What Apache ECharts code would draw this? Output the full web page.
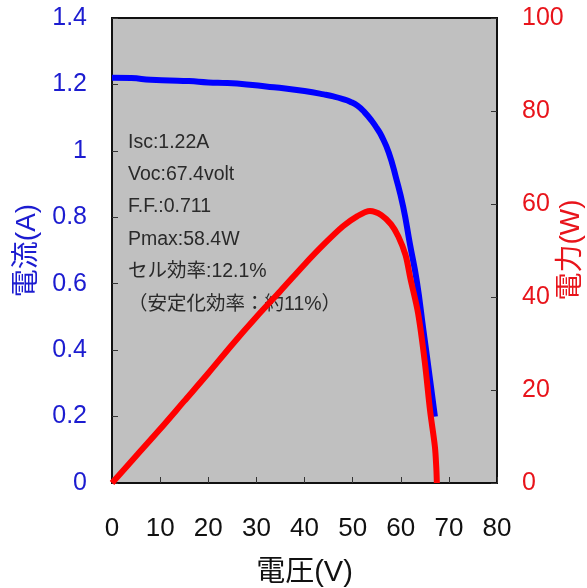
<!DOCTYPE html>
<html>
<head>
<meta charset="utf-8">
<script src="https://cdn.jsdelivr.net/npm/echarts@6/dist/echarts.min.js"></script>
<style>
html,body{margin:0;padding:0;background:#fff;}
#main{width:587px;height:588px;}
</style>
</head>
<body>
<div id="main"></div>
<script>
// 電流 (I-V)
var ivVolt = [0, 4, 8, 12, 16, 20, 24, 28, 32, 36, 40, 44, 46, 48, 49.5, 51, 52.5, 54, 55, 56, 57.5, 59, 60.5, 61.9, 63.3, 64.7, 66.1, 67.1];
var ivAmp = [1.220, 1.219, 1.214, 1.212, 1.210, 1.206, 1.204, 1.200, 1.194, 1.188, 1.180, 1.170, 1.164, 1.156, 1.148, 1.136, 1.116, 1.090, 1.069, 1.045, 0.995, 0.920, 0.832, 0.720, 0.611, 0.461, 0.310, 0.200];
// 電力 (P-V)
var pvVolt = [0, 5, 10, 15, 20, 25, 30, 35, 40, 44, 48, 51, 53.6, 56, 58, 59.5, 61, 62, 63.6, 65, 66.1, 67.1, 67.4, 67.5];
var pvWatt = [0, 5.8, 11.6, 17.6, 23.6, 29.8, 35.7, 41.3, 47.0, 51.3, 55.2, 57.4, 58.5, 57.6, 55.6, 53.0, 49.0, 44.0, 36.5, 26.0, 15.5, 7.8, 3.0, 0];
// 注記
var infoLines = ['Isc:1.22A', 'Voc:67.4volt', 'F.F.:0.711', 'Pmax:58.4W', 'セル効率:12.1%', '（安定化効率：約11%）'];

var blueText = '#1c1cd0';
var redText = '#e8141b';
var fontFam = 'Liberation Sans, Noto Sans CJK JP, sans-serif';

function pairs(xs, ys) {
    var out = [];
    for (var i = 0; i < xs.length; i++) {
        out.push([xs[i], ys[i]]);
    }
    return out;
}

var myChart = echarts.init(document.getElementById('main'));
var option = {
    animation: false,
    grid: {
        show: true,
        left: 112,
        right: 90,
        top: 18,
        bottom: 105,
        containLabel: false,
        outerBoundsMode: 'none',
        backgroundColor: '#c0c0c0',
        borderColor: '#111',
        borderWidth: 2
    },
    xAxis: {
        type: 'value',
        min: 0,
        max: 80,
        interval: 10,
        name: '電圧(V)',
        nameLocation: 'middle',
        nameGap: 75,
        nameTextStyle: {color: '#111', fontSize: 29, fontFamily: fontFam},
        axisLine: {lineStyle: {color: '#111', width: 2}},
        axisTick: {inside: true, length: 6, lineStyle: {color: '#333'}},
        axisLabel: {color: '#111', fontSize: 26, margin: 33, fontFamily: fontFam},
        splitLine: {show: false}
    },
    yAxis: [{
        type: 'value',
        min: 0,
        max: 1.4,
        interval: 0.2,
        name: '電流(A)',
        nameLocation: 'middle',
        nameGap: 70,
        nameRotate: 90,
        nameTextStyle: {color: blueText, fontSize: 28, fontFamily: fontFam},
        axisLine: {show: true, lineStyle: {color: '#111', width: 2}},
        axisTick: {show: true, inside: true, length: 6, lineStyle: {color: '#333'}},
        axisLabel: {color: blueText, fontSize: 25, margin: 25, fontFamily: fontFam},
        splitLine: {show: false}
    }, {
        type: 'value',
        min: 0,
        max: 100,
        interval: 20,
        position: 'right',
        axisLine: {show: true, lineStyle: {color: '#111', width: 2}},
        axisTick: {show: true, inside: true, length: 6, lineStyle: {color: '#333'}},
        axisLabel: {color: redText, fontSize: 25, margin: 25, fontFamily: fontFam},
        splitLine: {show: false}
    }],
    graphic: [{
        type: 'text',
        left: 128,
        top: 126,
        style: {
            text: infoLines.join('\n'),
            fill: '#2a2a2a',
            font: '19.5px ' + fontFam,
            lineHeight: 32.4
        }
    }, {
        // 右軸の名前
        type: 'text',
        x: 571,
        y: 250,
        rotation: Math.PI / 2,
        style: {
            text: '電力(W)',
            fill: redText,
            font: '28px ' + fontFam,
            align: 'center',
            verticalAlign: 'middle'
        }
    }],
    series: [{
        name: '電流',
        type: 'line',
        yAxisIndex: 0,
        data: pairs(ivVolt, ivAmp),
        smooth: 0.5,
        showSymbol: false,
        lineStyle: {color: '#0000ff', width: 6},
        z: 2
    }, {
        name: '電力',
        type: 'line',
        yAxisIndex: 1,
        data: pairs(pvVolt, pvWatt),
        smooth: 0.3,
        showSymbol: false,
        lineStyle: {color: '#ff0000', width: 6},
        z: 3
    }]
};
myChart.setOption(option);
</script>
</body>
</html>
